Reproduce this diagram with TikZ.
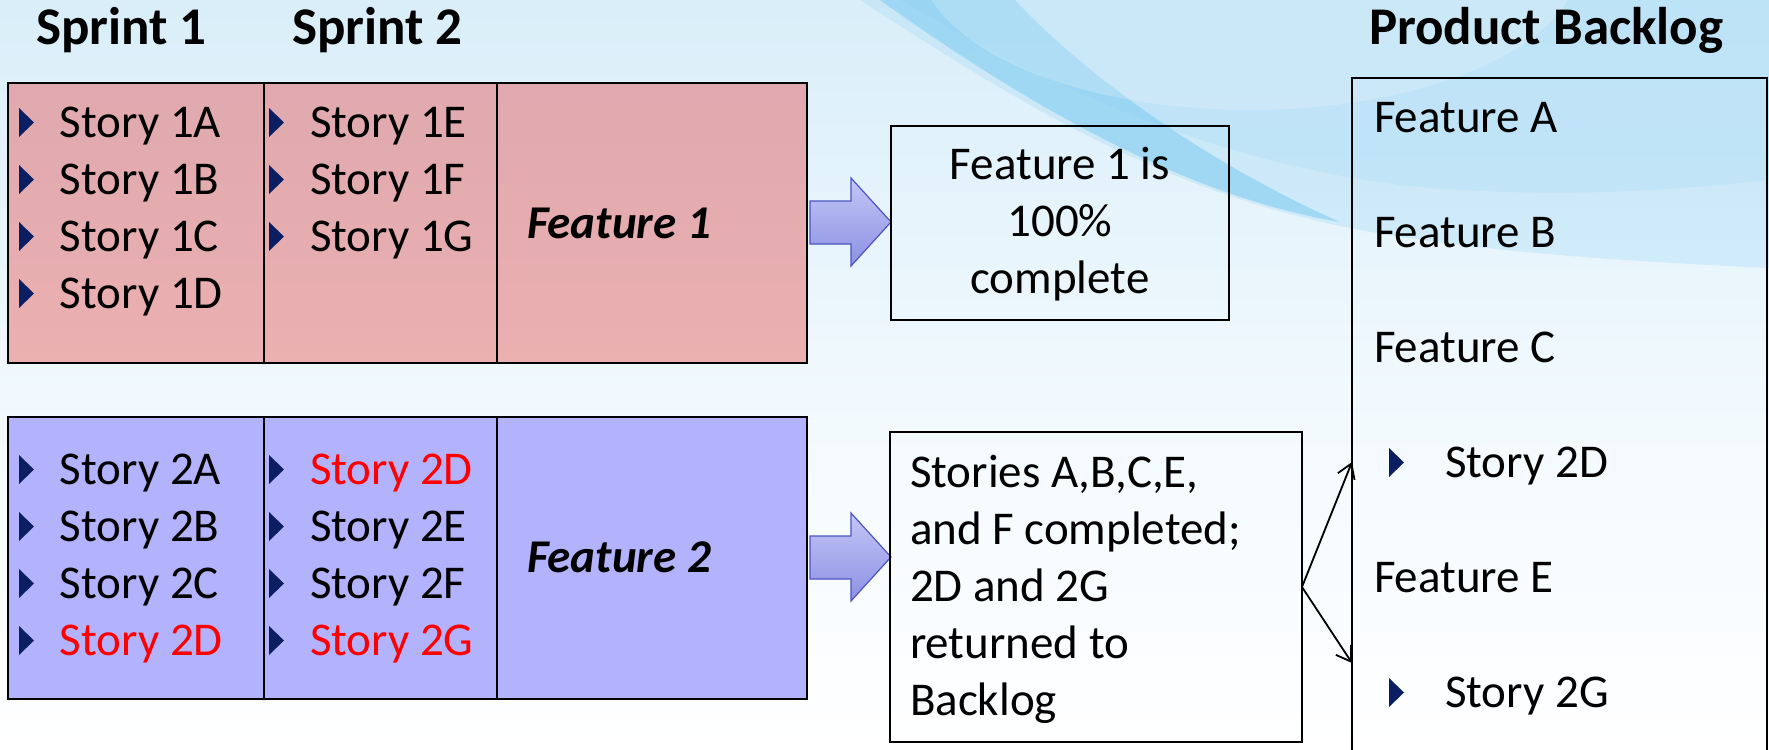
\documentclass[tikz,border=0pt]{standalone}
\usepackage{fontspec}
\setmainfont{Carlito}
\usetikzlibrary{arrows.meta,fit}
\definecolor{bgtop}{HTML}{D9EEF9}
\definecolor{bgmid}{HTML}{F3FAFE}
\definecolor{swA}{HTML}{B3DFF6}
\definecolor{swB}{HTML}{7CCBF0}
\definecolor{pinktop}{HTML}{DFA9AF}
\definecolor{pinkbot}{HTML}{EBB0B0}
\definecolor{bluebox}{HTML}{B3B3FD}
\definecolor{navy}{HTML}{0C1E62}
\definecolor{arrowline}{HTML}{4E53C4}
\definecolor{arrowtop}{HTML}{C3C6F5}
\definecolor{arrowmid}{HTML}{DFE1FB}
\definecolor{arrowbot}{HTML}{8C91E4}
\definecolor{redtext}{HTML}{FF0000}
\begin{document}
\begin{tikzpicture}[x=0.5pt,y=-0.5pt,
  every node/.style={inner sep=0pt,outer sep=0pt},
  story/.style={anchor=base west,font=\fontsize{23.5}{28.5}\selectfont},
  ttl/.style={anchor=base west,font=\fontsize{26.5}{32}\selectfont\bfseries},
  feat/.style={anchor=base west,font=\fontsize{23.5}{28.5}\selectfont\bfseries\itshape},
  sprintbox/.style={draw=black,line width=1pt},
  textbox/.style={draw=black,line width=0.9pt},
  divider/.style={draw=black,line width=0.8pt},
  blockarrow/.style={draw=arrowline,line width=0.6pt,top color=arrowtop,middle color=arrowmid,bottom color=arrowbot},
  link/.style={-{Straight Barb[length=7pt,width=9pt]},line width=0.9pt},
  bul/.pic={\fill[navy] (0,0) -- (15,-14.5) -- (0,-29) -- cycle;}
]
\useasboundingbox (0,0) rectangle (1769,750);
% background
\fill[top color=bgtop,bottom color=bgmid] (0,0) rectangle (1769,430);
\fill[top color=bgmid,bottom color=white] (0,430) rectangle (1769,750);
\fill[swA,opacity=0.45] (860,0) .. controls (1000,90) and (1150,190) .. (1360,230)
  .. controls (1500,255) and (1650,262) .. (1769,268) -- (1769,0) -- cycle;
\fill[swA,opacity=0.45] (900,0) .. controls (1040,80) and (1200,160) .. (1400,185)
  .. controls (1550,200) and (1680,190) .. (1769,180) -- (1769,0) -- cycle;
\fill[swB,opacity=0.55] (880,0) .. controls (1020,100) and (1180,195) .. (1340,222)
  .. controls (1200,160) and (1080,70) .. (1015,0) -- cycle;
\fill[white,opacity=0.2] (1250,-40) ellipse [x radius=330,y radius=150];

% titles
\node[ttl] (sp1title) at (36,44) {Sprint 1};
\node[ttl] (sp2title) at (292,44) {Sprint 2};
\node[ttl] (pbtitle) at (1369,44) {Product Backlog};

% feature 1 box
\node[sprintbox,top color=pinktop,bottom color=pinkbot,fit={(8,83) (807,363)}] (f1) {};
\draw[divider] (264,83) -- (264,363);
\draw[divider] (497,83) -- (497,363);
\foreach \y in {137,194,251,308} {\pic at (19,\y) {bul};}
\foreach \y in {137,194,251} {\pic at (269,\y) {bul};}
\node[story] (s1a) at (60,137) {Story 1A};
\node[story] (s1b) at (60,194) {Story 1B};
\node[story] (s1c) at (60,251) {Story 1C};
\node[story] (s1d) at (60,308) {Story 1D};
\node[story] (s1e) at (310,137) {Story 1E};
\node[story] (s1f) at (310,194) {Story 1F};
\node[story] (s1g) at (310,251) {Story 1G};
\node[feat] (feat1) at (527,238) {Feature 1};

% feature 2 box
\node[sprintbox,fill=bluebox,fit={(8,417) (807,699)}] (f2) {};
\draw[divider] (264,417) -- (264,699);
\draw[divider] (497,417) -- (497,699);
\foreach \y in {484,541,598,655} {\pic at (19,\y) {bul}; \pic at (269,\y) {bul};}
\node[story] (s2a) at (60,484) {Story 2A};
\node[story] (s2b) at (60,541) {Story 2B};
\node[story] (s2c) at (60,598) {Story 2C};
\node[story,text=redtext] (s2d) at (60,655) {Story 2D};
\node[story,text=redtext] (s2dd) at (310,484) {Story 2D};
\node[story] (s2e) at (310,541) {Story 2E};
\node[story] (s2f) at (310,598) {Story 2F};
\node[story,text=redtext] (s2g) at (310,655) {Story 2G};
\node[feat] (feat2) at (527,572) {Feature 2};

% block arrows
\draw[blockarrow] (810,201) -- (851,201) -- (851,178) -- (891,222) -- (851,266) -- (851,244) -- (810,244) -- cycle;
\draw[blockarrow] (810,536) -- (851,536) -- (851,513) -- (891,557) -- (851,601) -- (851,579) -- (810,579) -- cycle;

% result boxes
\node[textbox,fit={(891,126) (1229,320)}] (done1) {};
\node[story,anchor=base,align=center] (done1txt) at (1060,293) {Feature 1 is\\100\%\\complete};
\node[textbox,fit={(890,432) (1302,742)}] (done2) {};
\node[story,align=left] (done2txt) at (910,715) {Stories A,B,C,E,\\and F completed;\\2D and 2G\\returned to\\Backlog};

% product backlog
\node[textbox,fit={(1352,78) (1767,770)}] (pb) {};
\node[story] (fa) at (1374,132) {Feature A};
\node[story] (fb) at (1374,247) {Feature B};
\node[story] (fc) at (1374,362) {Feature C};
\pic at (1389,477) {bul};
\node[story] (b2d) at (1445,477) {Story 2D};
\node[story] (fe) at (1374,592) {Feature E};
\pic at (1389,707) {bul};
\node[story] (b2g) at (1445,707) {Story 2G};

% connectors
\coordinate (in2d) at (1352,462);
\coordinate (in2g) at (1352,663);
\draw[link] (done2.east) -- (in2d);
\draw[link] (done2.east) -- (in2g);
\end{tikzpicture}
\end{document}
